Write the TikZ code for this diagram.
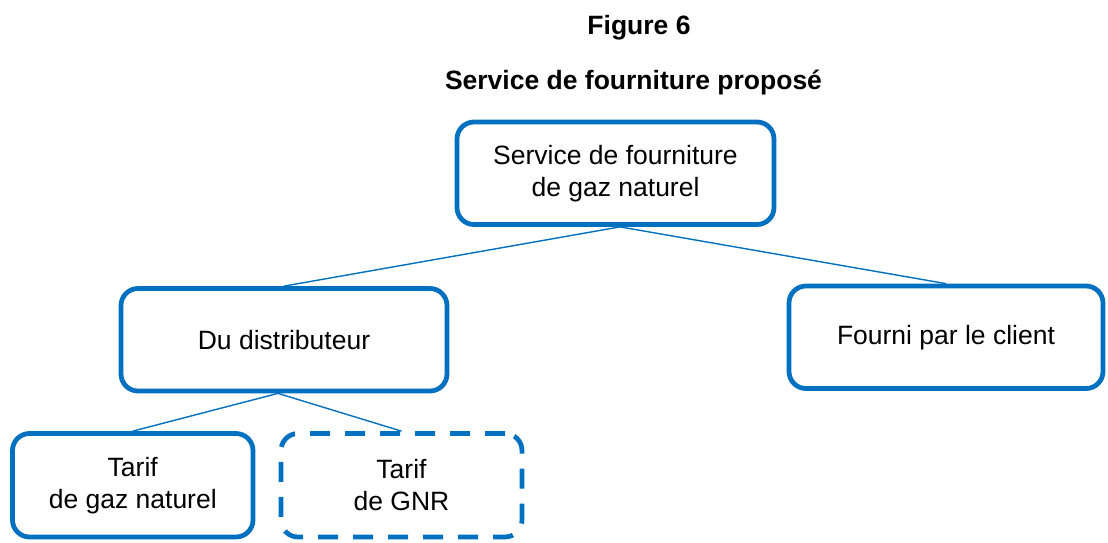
\documentclass[tikz,border=0pt]{standalone}
\usepackage{fontspec}
\setmainfont{Liberation Sans}
\definecolor{boxblue}{RGB}{0,112,192}
\tikzset{
  orgbox/.style={draw=boxblue, line width=4.75pt, rounded corners=17pt, fill=white,
    inner sep=0pt, align=center, minimum height=102.5pt,
    font=\fontsize{26.5pt}{31.8pt}\selectfont},
  dashbox/.style={orgbox, dash pattern=on 20pt off 15pt},
  link/.style={draw=boxblue, line width=1.4pt},
  titletext/.style={anchor=base, font=\fontsize{26.5pt}{31.8pt}\selectfont\bfseries}
}
\begin{document}
\begin{tikzpicture}[x=1pt,y=-1pt]
\useasboundingbox (0,0) rectangle (1108,542);
\node[titletext] (fig) at (639,34) {Figure 6};
\node[titletext] (ttl) at (633.5,89) {Service de fourniture propos\'e};

\node[orgbox, minimum width=317pt] (top) at (615.5,173.25) {Service de fourniture\\de gaz naturel};
\node[orgbox, minimum width=326pt] (du) at (284,339.75) {Du distributeur};
\node[orgbox, minimum width=314pt] (fourni) at (946,337.25) {Fourni par le client};
\node[orgbox, minimum width=240.5pt, minimum height=103.5pt] (tg) at (132.75,485.25) {Tarif\\de gaz naturel};
\node[dashbox, minimum width=241pt, minimum height=103.5pt] (gnr) at (401.5,485.25) {Tarif\\de GNR};

\draw[link] ([xshift=4.5pt]top.south) -- (du.north);
\draw[link] ([xshift=4.5pt]top.south) -- (fourni.north);
\draw[link] ([xshift=-6pt]du.south) -- (tg.north);
\draw[link] ([xshift=-6pt]du.south) -- (gnr.north);
\end{tikzpicture}
\end{document}
